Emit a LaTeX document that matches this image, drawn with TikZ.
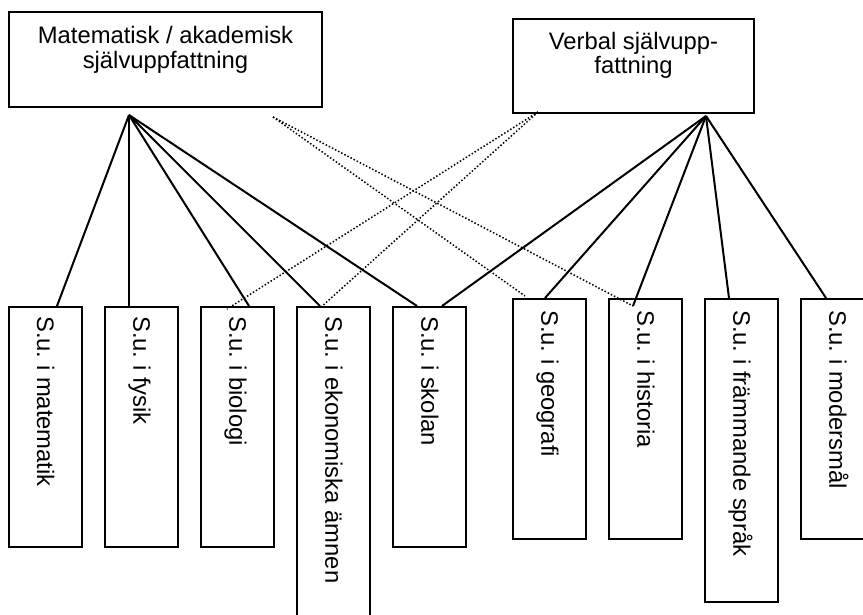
\documentclass[tikz,border=0pt]{standalone}
\usepackage{fontspec}
\setmainfont{Liberation Sans}
\usetikzlibrary{positioning}
\frenchspacing

\begin{document}
\begin{tikzpicture}[x=1pt,y=-1pt,
  topbox/.style={draw,line width=2pt,inner sep=0pt},
  subox/.style={draw,line width=2pt,inner sep=0pt,minimum width=73pt},
  toptext/.style={font=\fontsize{23.8pt}{24.5pt}\selectfont,align=center,inner sep=0pt},
  sutext/.style={font=\fontsize{23.8pt}{24.5pt}\selectfont,rotate=-90,anchor=west,inner sep=0pt,text height=21.5pt,text depth=5pt},
  link/.style={line width=2pt},
  dotlink/.style={line width=1.5pt,dotted}]
\clip (0,0) rectangle (863,615);
\fill[white] (0,0) rectangle (863,615);

\node[topbox,minimum width=313pt,minimum height=95pt] (mathbox) at (165.5,59.5) {};
\node[toptext,below=15.5pt of mathbox.north] (mathlabel) {Matematisk / akademisk\\självuppfattning};
\node[topbox,minimum width=241pt,minimum height=94pt] (verbbox) at (633.5,66) {};
\node[toptext,below=14pt of verbbox.north] (verblabel) {Verbal självupp-\\fattning};

\node[subox,minimum height=240pt] (matematik) at (45.5,427) {};
\node[subox,minimum height=240pt] (fysik) at (141.5,427) {};
\node[subox,minimum height=240pt] (biologi) at (237.5,427) {};
\node[subox,minimum height=340pt] (ekonomi) at (333.5,477) {};
\node[subox,minimum height=240pt] (skolan) at (429.5,427) {};
\node[subox,minimum height=240pt] (geografi) at (549.5,419) {};
\node[subox,minimum height=240pt] (historia) at (645.5,419) {};
\node[subox,minimum height=303pt] (sprak) at (741.5,450.5) {};
\node[subox,minimum height=240pt] (modersmal) at (837.5,419) {};

\node[sutext] (matematiklabel) at ([yshift=-10pt]matematik.north) {S.u. i matematik};
\node[sutext] (fysiklabel) at ([yshift=-10pt]fysik.north) {S.u. i fysik};
\node[sutext] (biologilabel) at ([yshift=-10pt]biologi.north) {S.u. i biologi};
\node[sutext] (ekonomilabel) at ([yshift=-10pt]ekonomi.north) {S.u. i ekonomiska ämnen};
\node[sutext] (skolanlabel) at ([yshift=-10pt]skolan.north) {S.u. i skolan};
\node[sutext] (geografilabel) at ([yshift=-12pt]geografi.north) {S.u. i geografi};
\node[sutext] (historialabel) at ([yshift=-12pt]historia.north) {S.u. i historia};
\node[sutext] (spraklabel) at ([yshift=-12pt]sprak.north) {S.u. i främmande språk};
\node[sutext] (modersmallabel) at ([yshift=-12pt]modersmal.north) {S.u. i modersmål};

\coordinate (mathroot) at (129,115);
\coordinate (verbroot) at (706,116);
\coordinate (mathdot) at (273,117);
\coordinate (verbdot) at (538,112);

\draw[link] (mathroot) -- ([xshift=11.5pt]matematik.north);
\draw[link] (mathroot) -- ([xshift=-12.5pt]fysik.north);
\draw[link] (mathroot) -- ([xshift=11.5pt]biologi.north);
\draw[link] (mathroot) -- ([xshift=-13.5pt]ekonomi.north);
\draw[link] (mathroot) -- ([xshift=-12.5pt]skolan.north);
\draw[link] (verbroot) -- ([xshift=12.5pt]skolan.north);
\draw[link] (verbroot) -- ([xshift=-4.5pt]geografi.north);
\draw[link] (verbroot) -- ([xshift=-12.5pt,yshift=-8pt]historia.north);
\draw[link] (verbroot) -- ([xshift=-12.5pt]sprak.north);
\draw[link] (verbroot) -- ([xshift=-11.5pt]modersmal.north);

\draw[dotlink] (mathdot) -- ([xshift=-24.5pt,yshift=2pt]geografi.north);
\draw[dotlink] (mathdot) -- ([xshift=-12.5pt,yshift=-8pt]historia.north);
\draw[dotlink] (verbdot) -- ([xshift=-10.5pt,yshift=-3pt]biologi.north);
\draw[dotlink] (verbdot) -- ([xshift=-13.5pt,yshift=-2pt]ekonomi.north);

\end{tikzpicture}
\end{document}
